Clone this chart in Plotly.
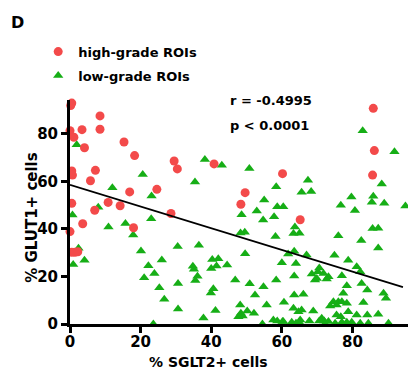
import plotly.graph_objects as go

# ---- data ----
high_x = [0.2, 0.5, 8.5, 8.5, 0.0, 3.4, 1.1, 4.1, 15.3, 18.3, 29.5, 30.4, 0.5, 0.7, 7.2, 5.8,
          16.9, 24.6, 10.8, 14.2, 0.5, 7.0, 28.6, 3.6, 0.0, 0.5, 1.4, 2.2, 18.0, 40.8, 60.2,
          49.6, 48.4, 85.9, 86.2, 85.7, 65.2]
high_y = [92.0, 93.0, 87.6, 82.0, 81.4, 81.8, 78.6, 74.2, 76.6, 70.9, 68.6, 65.3, 64.4, 62.7,
          64.7, 60.3, 55.6, 56.7, 51.2, 49.8, 50.8, 47.9, 46.5, 42.2, 38.9, 30.2, 30.2, 30.4,
          40.5, 67.4, 63.3, 55.3, 50.4, 90.8, 73.0, 62.7, 43.9]

low_x = [1.9, 20.6, 12.0, 23.1, 8.0, 0.7, 10.9, 15.7, 23.0, 17.9, 2.4, 0.9, 4.1, 20.1, 26.0,
         22.2, 23.9, 21.0, 25.3, 26.7, 23.6, 30.5, 30.6, 30.6,
         38.2, 43.0, 50.8, 35.4, 58.4, 55.0, 58.7, 60.4, 52.9, 48.6, 54.7, 57.8, 48.3, 49.5,
         58.2, 36.5, 34.8, 35.1, 36.1, 35.5, 40.3, 42.0, 41.5, 40.0, 44.5, 40.6, 39.9, 41.2,
         37.8, 49.6, 46.8, 50.9, 54.8, 52.4, 48.2, 50.2, 48.4, 47.7, 48.9, 52.1, 55.7, 58.4,
         60.0, 60.6, 57.6, 58.7, 60.2, 54.5, 61.8,
         82.9, 91.9, 67.4, 65.6, 68.3, 79.7, 85.9, 85.5, 88.3, 89.0, 76.7, 80.7, 95.0, 63.7,
         63.3, 65.0, 76.0, 82.5, 85.7, 87.3, 87.3, 63.5, 67.0, 74.9, 78.8, 64.0, 81.2, 82.2,
         70.6, 70.2, 71.8, 73.2, 68.5, 69.4, 69.9, 72.7, 77.0, 63.5, 82.6, 78.4, 84.2, 88.8,
         89.5, 77.4, 63.5, 66.1, 74.6, 76.0, 77.0, 75.5, 78.4, 73.7, 83.1, 63.3, 64.7, 65.6,
         68.9, 78.8, 87.3, 75.5, 76.7, 81.2, 84.2, 71.3, 72.0, 70.6, 67.8, 65.2, 64.0, 62.8,
         60.4, 73.2, 77.0, 79.8, 82.2, 84.5, 90.2, 78.4, 75.1, 64.2, 65.3, 72.2]
low_y = [75.5, 62.9, 57.4, 53.9, 49.1, 45.9, 40.8, 42.3, 44.3, 37.5, 31.9, 25.1, 26.8, 30.7,
         26.9, 24.5, 21.3, 19.5, 15.3, 10.4, 0.0, 32.6, 17.0, 6.3,
         69.2, 66.8, 65.5, 59.8, 57.8, 52.2, 49.4, 49.4, 47.6, 46.0, 43.8, 45.1, 38.3, 38.6,
         36.8, 33.2, 24.3, 23.0, 20.1, 18.3, 27.2, 27.5, 24.4, 23.4, 24.8, 14.8, 13.0, 5.7,
         2.5, 29.6, 18.5, 16.9, 15.7, 12.2, 8.0, 5.5, 4.5, 3.1, 3.4, 4.5, 8.0, 18.5,
         25.8, 9.2, 1.7, 1.3, 1.0, 0.0, 29.5,
         81.4, 72.5, 60.5, 55.5, 55.8, 53.5, 53.8, 51.3, 58.9, 50.8, 50.0, 47.8, 49.7, 40.8,
         38.1, 38.2, 37.1, 35.2, 40.2, 40.3, 32.0, 30.6, 29.1, 28.9, 26.8, 25.5, 24.1, 22.0,
         23.6, 22.0, 21.3, 19.9, 21.0, 18.5, 19.2, 18.9, 20.3, 20.2, 17.1, 16.1, 14.3, 12.9,
         10.8, 12.9, 12.2, 12.5, 9.4, 9.4, 9.4, 8.0, 8.7, 7.6, 9.1, 6.6, 5.2, 5.9,
         5.5, 5.2, 4.1, 3.8, 3.1, 3.8, 3.8, 2.4, 1.3, 1.3, 1.3, 1.7, 0.3, 0.7,
         1.0, 1.0, 0.7, 0.7, 0.3, 0.3, 0.3, 0.7, 0.3, 0.0, 0.0, 0.0]

fit_x = [0.0, 94.3]
fit_y = [58.6, 15.5]

x_ticks = [0, 20, 40, 60, 80]
y_ticks = [0, 20, 40, 60, 80]

RED = "#F34A4A"
GREEN = "#16AE16"
FONT = "DejaVu Sans"

fig = go.Figure()
fig.add_trace(go.Scatter(x=low_x, y=low_y, mode="markers", name="low-grade ROIs",
                         legendrank=2, legendgroup="low", cliponaxis=False,
                         marker=dict(symbol="triangle-up", size=9, color=GREEN)))
fig.add_trace(go.Scatter(x=high_x, y=high_y, mode="markers", name="high-grade ROIs",
                         legendrank=1, legendgroup="high", cliponaxis=False,
                         marker=dict(symbol="circle", size=9, color=RED)))
fig.add_trace(go.Scatter(x=fit_x, y=fit_y, mode="lines", showlegend=False,
                         line=dict(color="black", width=1.8)))

axis_common = dict(showgrid=False, zeroline=False, showline=True, linecolor="black",
                   linewidth=3, ticks="outside", ticklen=6, tickwidth=2.5, tickcolor="black",
                   automargin=False,
                   tickfont=dict(family=FONT, size=15, color="black", weight="bold"))
fig.update_xaxes(range=[0, 96.3], tickvals=x_ticks, ticklabelstandoff=-4, **axis_common)
fig.update_yaxes(range=[0, 94.3], tickvals=y_ticks, **axis_common)

fig.update_layout(
    width=416, height=382,
    margin=dict(l=62, r=14, t=92, b=66, autoexpand=False),
    plot_bgcolor="white", paper_bgcolor="white",
    font=dict(family=FONT, color="black"),
    legend=dict(xref="container", yref="container", x=0.0726, y=0.925,
                xanchor="left", yanchor="top",
                font=dict(family=FONT, size=13, color="black", weight="bold"),
                bgcolor="rgba(0,0,0,0)", traceorder="grouped", tracegroupgap=4,
                itemwidth=30),
    annotations=[
        dict(text="D", xref="paper", yref="paper", x=-0.18, y=1.346, xanchor="left",
             yanchor="middle", showarrow=False,
             font=dict(family=FONT, size=16, color="black", weight="bold")),
        dict(text="r = -0.4995", xref="paper", yref="paper", x=0.465, y=1.0, xanchor="left",
             yanchor="middle", showarrow=False,
             font=dict(family=FONT, size=13, color="black", weight="bold")),
        dict(text="p < 0.0001", xref="paper", yref="paper", x=0.465, y=0.888, xanchor="left",
             yanchor="middle", showarrow=False,
             font=dict(family=FONT, size=13, color="black", weight="bold")),
        dict(text="% SGLT2+ cells", xref="paper", yref="paper", x=0.406, y=-0.168,
             xanchor="center", yanchor="middle", showarrow=False,
             font=dict(family=FONT, size=14, color="black", weight="bold")),
        dict(text="% GLUT1+ cells", xref="paper", yref="paper", x=-0.112, y=0.478,
             xanchor="center", yanchor="middle", showarrow=False, textangle=-90,
             font=dict(family=FONT, size=15, color="black", weight="bold")),
    ],
)

fig.write_html("out.html")
